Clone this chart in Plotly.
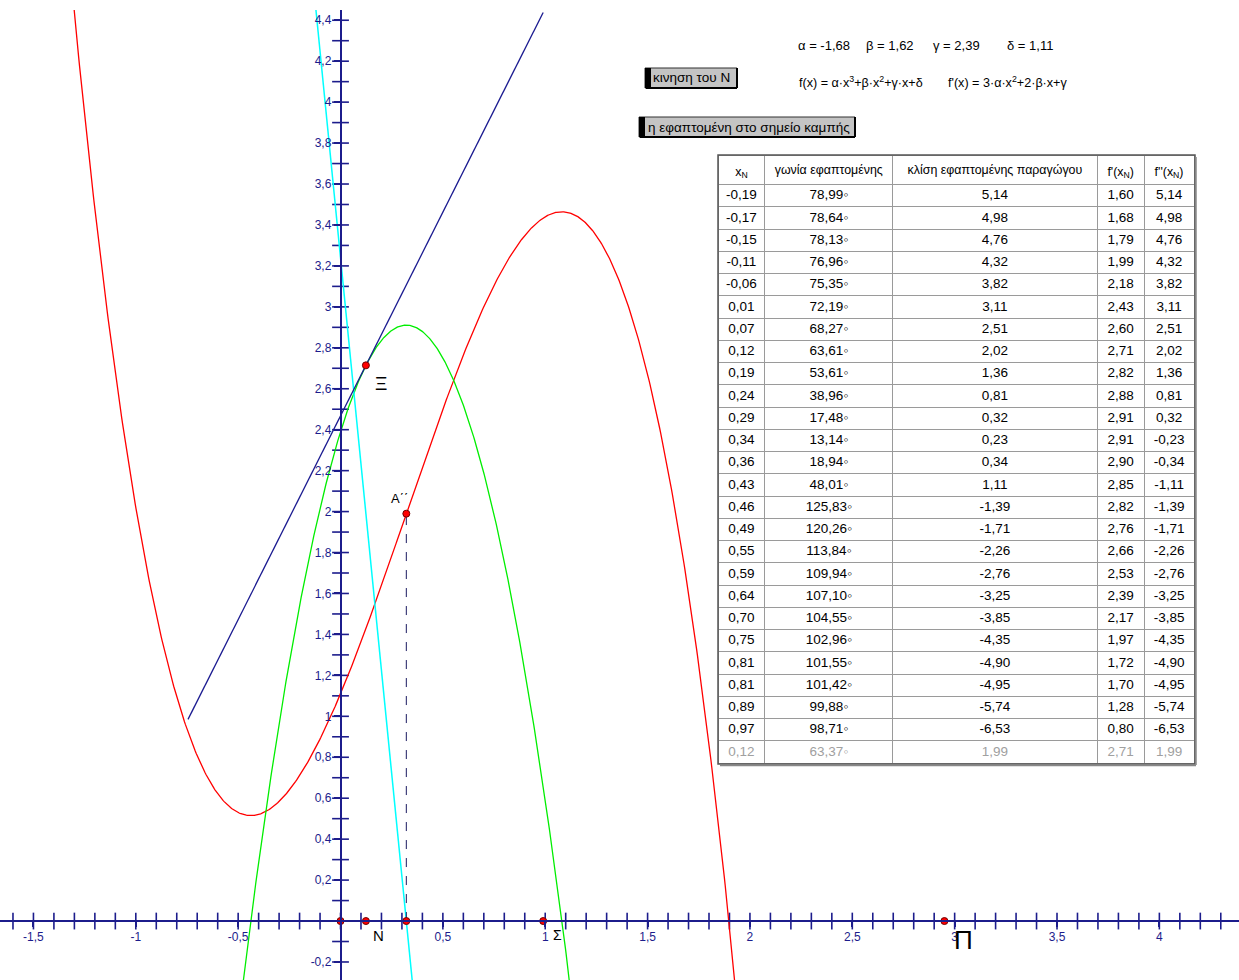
import numpy as np
import plotly.graph_objects as go

# ---------------- data ----------------
alpha, beta, gamma, delta = -1.68, 1.62, 2.39, 1.11
x_N = 0.124                     # current position of N
x_sigma, x_pi = 0.99, 2.95      # other points on the x axis
tangent_x = [-0.745, 0.99]      # drawn extent of the tangent segment

xN_col = [-0.19, -0.17, -0.15, -0.11, -0.06, 0.01, 0.07, 0.12, 0.19, 0.24, 0.29, 0.34, 0.36,
          0.43, 0.46, 0.49, 0.55, 0.59, 0.64, 0.70, 0.75, 0.81, 0.81, 0.89, 0.97, 0.12]
angle_col = [78.99, 78.64, 78.13, 76.96, 75.35, 72.19, 68.27, 63.61, 53.61, 38.96, 17.48, 13.14,
             18.94, 48.01, 125.83, 120.26, 113.84, 109.94, 107.10, 104.55, 102.96, 101.55,
             101.42, 99.88, 98.71, 63.37]
slope_col = [5.14, 4.98, 4.76, 4.32, 3.82, 3.11, 2.51, 2.02, 1.36, 0.81, 0.32, 0.23, 0.34, 1.11,
             -1.39, -1.71, -2.26, -2.76, -3.25, -3.85, -4.35, -4.90, -4.95, -5.74, -6.53, 1.99]
fp_col = [1.60, 1.68, 1.79, 1.99, 2.18, 2.43, 2.60, 2.71, 2.82, 2.88, 2.91, 2.91, 2.90, 2.85,
          2.82, 2.76, 2.66, 2.53, 2.39, 2.17, 1.97, 1.72, 1.70, 1.28, 0.80, 2.71]
fpp_col = [5.14, 4.98, 4.76, 4.32, 3.82, 3.11, 2.51, 2.02, 1.36, 0.81, 0.32, -0.23, -0.34, -1.11,
           -1.39, -1.71, -2.26, -2.76, -3.25, -3.85, -4.35, -4.90, -4.95, -5.74, -6.53, 1.99]
header_labels = ["x<sub>N</sub>", "γωνία εφαπτομένης", "κλίση εφαπτομένης παραγώγου",
                 "f'(x<sub>N</sub>)", "f''(x<sub>N</sub>)"]

x_tickvals = [-1.5, -1, -0.5, 0.5, 1, 1.5, 2, 2.5, 3, 3.5, 4]
y_tickvals = [-0.2] + [round(0.2 * k, 1) for k in range(1, 23)]

X_RANGE = [-1.6634, 4.389]
Y_RANGE = [-0.288, 4.45]

# ---------------- helpers ----------------
W, H, TOP = 1239, 980, 10
def px(x):  # pixel -> paper x
    return x / W
def py(y):  # pixel -> paper y (plot area starts at TOP)
    return (H - y) / (H - TOP)

def comma(v, nd=None):
    s = f"{v:.{nd}f}" if nd is not None else f"{round(v, 2):g}"
    return s.replace(".", ",")

f = lambda x: alpha * x**3 + beta * x**2 + gamma * x + delta
fp = lambda x: 3 * alpha * x**2 + 2 * beta * x + gamma
fpp = lambda x: 6 * alpha * x + 2 * beta

NAVY = "#1c1c8c"
FONT = "Liberation Sans, Arial, sans-serif"
CLEAR = "rgba(0,0,0,0)"

fig = go.Figure()

# axis cross ticks every 0.1
xt = np.round(np.arange(-1.6, 4.35, 0.1), 2)
yt = np.round(np.arange(-0.2, 4.45, 0.1), 2)
fig.add_trace(go.Scatter(x=xt, y=np.zeros_like(xt), mode="markers", hoverinfo="skip",
                         marker=dict(symbol="line-ns", size=12, line=dict(width=1.6, color=NAVY))))
fig.add_trace(go.Scatter(x=np.zeros_like(yt), y=yt, mode="markers", hoverinfo="skip",
                         marker=dict(symbol="line-ew", size=12, line=dict(width=1.6, color=NAVY))))

# curves
xs = np.linspace(-1.45, 2.05, 800)
fig.add_trace(go.Scatter(x=xs, y=f(xs), mode="lines", line=dict(color="#ff0000", width=1.3)))
xg = np.linspace(-0.6, 1.25, 600)
fig.add_trace(go.Scatter(x=xg, y=fp(xg), mode="lines", line=dict(color="#00ee00", width=1.3)))
xc = np.array([-0.2, 0.5])
fig.add_trace(go.Scatter(x=xc, y=fpp(xc), mode="lines", line=dict(color="#00ffff", width=1.5)))
tx = np.array(tangent_x)
fig.add_trace(go.Scatter(x=tx, y=fp(x_N) + fpp(x_N) * (tx - x_N), mode="lines",
                         line=dict(color="#1a1a90", width=1.3)))

x_infl = -beta / (3 * alpha)
fig.add_trace(go.Scatter(x=[x_infl, x_infl], y=[0, f(x_infl)], mode="lines",
                         line=dict(color="#1a1a60", width=1, dash="dash")))

# points
pts_x = [0, x_N, x_infl, x_sigma, x_pi, x_N, x_infl]
pts_y = [0, 0, 0, 0, 0, fp(x_N), f(x_infl)]
fig.add_trace(go.Scatter(x=pts_x, y=pts_y, mode="markers",
                         marker=dict(size=7, color="#ff0000", line=dict(width=1, color="#700000"))))

# ---------------- table ----------------
def fmt_col(vals, suffix=""):
    return [comma(v, 2) + suffix for v in vals]

n = len(xN_col)
colwidths = [47, 128, 205, 47, 50]
TBL_X = [px(718), px(1195)]
# grid (cell borders)
fig.add_trace(go.Table(
    domain=dict(x=TBL_X, y=[py(765), py(155)]),
    columnwidth=colwidths,
    header=dict(values=[""] * 5, height=29.5, fill_color="white",
                line=dict(color="#9a9a9a", width=1)),
    cells=dict(values=[[""] * n for _ in range(5)], height=22.25, fill_color="white",
               line=dict(color="#9a9a9a", width=1)),
))
# header text layer
fig.add_trace(go.Table(
    domain=dict(x=TBL_X, y=[py(215), py(156.5)]),
    columnwidth=colwidths,
    header=dict(values=header_labels, align="center", height=29,
                fill_color=CLEAR, line=dict(width=0, color=CLEAR),
                font=dict(family=FONT, size=12.4, color="black")),
    cells=dict(values=[[""] for _ in range(5)], height=10, fill_color=CLEAR,
               line=dict(width=0, color=CLEAR)),
))
# cell text layer (offset so the text sits centred in each grid cell)
font_colors = [["#000000"] * (n - 1) + ["#a0a0a0"] for _ in range(5)]
fig.add_trace(go.Table(
    domain=dict(x=TBL_X, y=[py(776), py(155)]),
    columnwidth=colwidths,
    header=dict(values=[""] * 5, height=26.3,
                fill_color=CLEAR, line=dict(width=0, color=CLEAR)),
    cells=dict(values=[fmt_col(xN_col), fmt_col(angle_col, "◦"), fmt_col(slope_col),
                       fmt_col(fp_col), fmt_col(fpp_col)],
               align="center", height=22.25, fill_color=CLEAR,
               line=dict(width=0, color=CLEAR),
               font=dict(family=FONT, size=13.5, color=font_colors)),
))

shapes = []
# table outer border + shadow
shapes.append(dict(type="rect", xref="paper", yref="paper", x0=px(718), x1=px(1195),
                   y0=py(764), y1=py(155), line=dict(color="#555555", width=1.5)))
shapes.append(dict(type="line", xref="paper", yref="paper", x0=px(1196), x1=px(1196),
                   y0=py(765), y1=py(157), line=dict(color="#888888", width=1.5)))
shapes.append(dict(type="line", xref="paper", yref="paper", x0=px(720), x1=px(1196),
                   y0=py(765.5), y1=py(765.5), line=dict(color="#888888", width=1.5)))

# buttons
def button(x0, x1, y0, y1):
    shapes.append(dict(type="rect", xref="paper", yref="paper", x0=px(x0), x1=px(x1),
                       y0=py(y1), y1=py(y0), fillcolor="#c4c4c4",
                       line=dict(color="#303030", width=1)))
    shapes.append(dict(type="rect", xref="paper", yref="paper", x0=px(x0), x1=px(x0 + 6),
                       y0=py(y1), y1=py(y0), fillcolor="#000000", line=dict(width=0)))
    shapes.append(dict(type="line", xref="paper", yref="paper", x0=px(x0 + 1), x1=px(x1),
                       y0=py(y1), y1=py(y1), line=dict(color="#000000", width=2)))
    shapes.append(dict(type="line", xref="paper", yref="paper", x0=px(x1), x1=px(x1),
                       y0=py(y1), y1=py(y0), line=dict(color="#000000", width=2)))
button(645, 737, 68, 88)
button(639, 855, 117, 137)

annotations = []
def text(x, y, s, size=13, color="black", xanchor="left"):
    annotations.append(dict(xref="paper", yref="paper", x=px(x), y=py(y), text=s,
                            showarrow=False, xanchor=xanchor, yanchor="middle",
                            font=dict(family=FONT, size=size, color=color)))

text(651, 78, "κινηση του Ν", 13.5)
text(646, 127, "η εφαπτομένη στο σημείο καμπής", 13.5)
text(796, 46, f"α = {comma(alpha)}", 13)
text(864, 46, f"β = {comma(beta)}", 13)
text(931, 46, f"γ = {comma(gamma)}", 13)
text(1005, 46, f"δ = {comma(delta)}", 13)
text(797, 82, "f(x) = α·x<sup>3</sup>+β·x<sup>2</sup>+γ·x+δ", 12.6)
text(946, 82, "f'(x) = 3·α·x<sup>2</sup>+2·β·x+γ", 12.6)

def label(x, y, s, dx, dy, size):
    annotations.append(dict(x=x, y=y, xref="x", yref="y", text=s, showarrow=False,
                            xshift=dx, yshift=dy, font=dict(family=FONT, size=size, color="black")))

label(x_N, fp(x_N), "Ξ", 15, -18, 19)
label(x_infl, f(x_infl), "A΄΄", -7, 15, 13)
label(x_N, 0, "N", 13, -14, 15)
label(x_sigma, 0, "Σ", 14, -14, 14)
label(x_pi, 0, "Π", 19, -19, 26)

fig.update_layout(
    width=W, height=H, margin=dict(l=0, r=0, t=TOP, b=0),
    paper_bgcolor="white", plot_bgcolor="white", showlegend=False,
    shapes=shapes, annotations=annotations,
    xaxis=dict(range=X_RANGE, showgrid=False, zeroline=False, anchor="free",
               position=(0 - Y_RANGE[0]) / (Y_RANGE[1] - Y_RANGE[0]),
               showline=True, linecolor=NAVY, linewidth=1.6,
               tickvals=x_tickvals, ticktext=[comma(v) for v in x_tickvals],
               ticks="outside", ticklen=5, tickcolor=NAVY, tickwidth=1.6,
               tickfont=dict(family=FONT, size=12, color=NAVY)),
    yaxis=dict(range=Y_RANGE, showgrid=False, zeroline=False, anchor="free",
               position=(0 - X_RANGE[0]) / (X_RANGE[1] - X_RANGE[0]),
               showline=True, linecolor=NAVY, linewidth=1.6,
               tickvals=y_tickvals, ticktext=[comma(v) for v in y_tickvals],
               ticks="outside", ticklen=6, tickcolor=NAVY, tickwidth=1.6,
               tickfont=dict(family=FONT, size=12, color=NAVY)),
)

fig.write_html("out.html")
